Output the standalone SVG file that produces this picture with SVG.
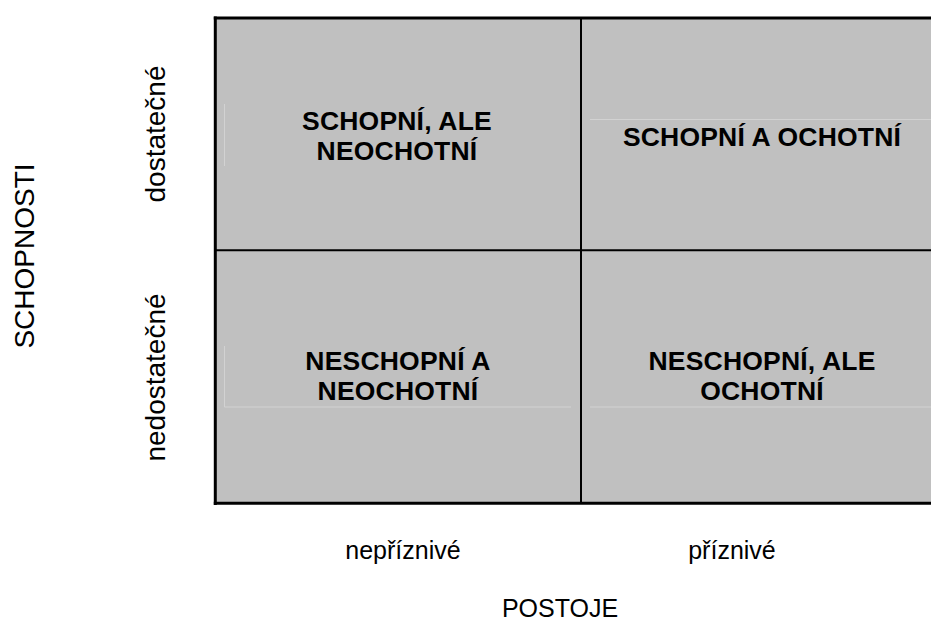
<svg xmlns="http://www.w3.org/2000/svg" width="931" height="622" viewBox="0 0 931 622">
<style>
.cell{fill:#c0c0c0;stroke:none}
.grid{stroke:#000;fill:none}
.faint{stroke:#d2d2d2;stroke-width:1;fill:none}
.q{font-family:"Liberation Sans",Arial,sans-serif;font-weight:bold;font-size:26.5px;fill:#000;text-anchor:middle;letter-spacing:0.2px}
.lab{font-family:"Liberation Sans",Arial,sans-serif;font-size:25px;fill:#000;text-anchor:middle}
.vlab{font-family:"Liberation Sans",Arial,sans-serif;font-size:28px;fill:#000;text-anchor:middle}
</style>
<rect class="cell" x="215" y="18" width="716" height="485"/>
<g id="q-top-left">
<line class="faint" x1="224.5" y1="104" x2="224.5" y2="166"/>
<text class="q" x="397" y="129.5">SCHOPNÍ, ALE</text>
<text class="q" x="397" y="159.5">NEOCHOTNÍ</text>
</g>
<g id="q-top-right">
<line class="faint" x1="590" y1="119.5" x2="931" y2="119.5"/>
<text class="q" x="762" y="145.5">SCHOPNÍ A OCHOTNÍ</text>
</g>
<g id="q-bottom-left">
<line class="faint" x1="224.5" y1="346" x2="224.5" y2="407"/>
<line class="faint" x1="224.5" y1="407" x2="571" y2="407"/>
<text class="q" x="398" y="369.5">NESCHOPNÍ A</text>
<text class="q" x="398" y="400">NEOCHOTNÍ</text>
</g>
<g id="q-bottom-right">
<line class="faint" x1="590" y1="407" x2="931" y2="407"/>
<text class="q" x="762" y="369.5">NESCHOPNÍ, ALE</text>
<text class="q" x="762" y="400">OCHOTNÍ</text>
</g>
<g id="connectors">
<line class="grid" stroke-width="3" x1="213.8" y1="18" x2="931" y2="18"/>
<line class="grid" stroke-width="3" x1="215.3" y1="16.5" x2="215.3" y2="505"/>
<line class="grid" stroke-width="3" x1="213.8" y1="503.3" x2="931" y2="503.3"/>
<line class="grid" stroke-width="2" x1="581" y1="18" x2="581" y2="503"/>
<line class="grid" stroke-width="2" x1="215" y1="250.3" x2="931" y2="250.3"/>
</g>
<g id="axis-y">
<text class="vlab" transform="translate(33.5,256) rotate(-90)">SCHOPNOSTI</text>
<text class="vlab" transform="translate(165,134) rotate(-90)">dostatečné</text>
<text class="vlab" transform="translate(165,377.5) rotate(-90)">nedostatečné</text>
</g>
<g id="axis-x">
<text class="lab" x="403" y="559">nepříznivé</text>
<text class="lab" x="732" y="559">příznivé</text>
<text class="lab" x="560" y="617">POSTOJE</text>
</g>
</svg>
